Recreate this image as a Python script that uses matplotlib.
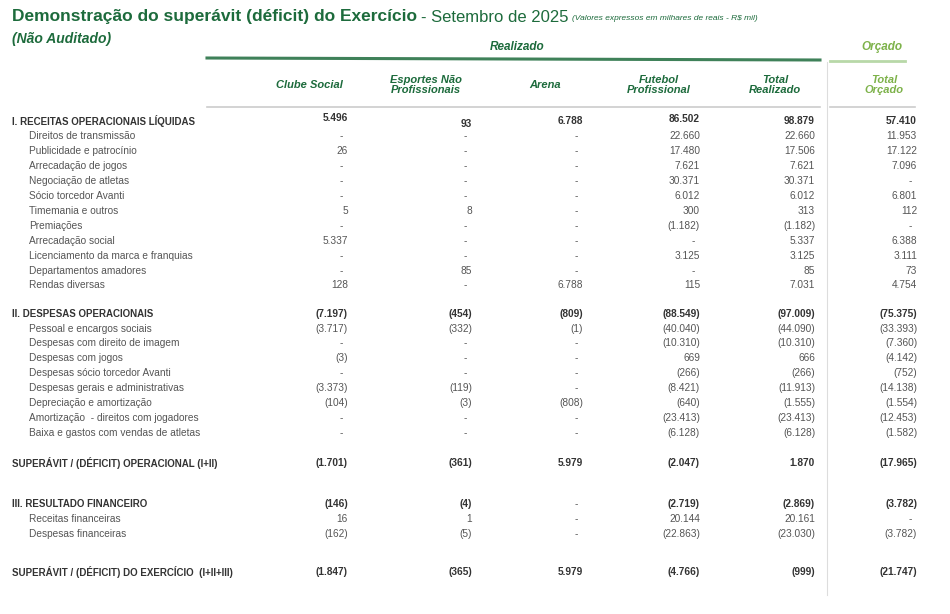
import matplotlib
matplotlib.use("Agg")
import matplotlib.pyplot as plt

labels = ["I. RECEITAS OPERACIONAIS LÍQUIDAS", "Direitos de transmissão", "Publicidade e patrocínio",
          "Arrecadação de jogos", "Negociação de atletas", "Sócio torcedor Avanti", "Timemania e outros",
          "Premiações", "Arrecadação social", "Licenciamento da marca e franquias", "Departamentos amadores",
          "Rendas diversas",
          "II. DESPESAS OPERACIONAIS", "Pessoal e encargos sociais", "Despesas com direito de imagem",
          "Despesas com jogos", "Despesas sócio torcedor Avanti", "Despesas gerais e administrativas",
          "Depreciação e amortização", "Amortização  - direitos com jogadores", "Baixa e gastos com vendas de atletas",
          "SUPERÁVIT / (DÉFICIT) OPERACIONAL (I+II)",
          "III. RESULTADO FINANCEIRO", "Receitas financeiras", "Despesas financeiras",
          "SUPERÁVIT / (DÉFICIT) DO EXERCÍCIO  (I+II+III)"]
bold_rows = {0, 12, 21, 22, 25}
row_y = [121, 136, 151, 166, 181, 196, 211, 226, 241, 256, 271, 285,
         314, 329, 343, 358, 373, 388, 403, 418, 433, 463, 504, 519, 534, 572]

N = None
clube_social = [5496, N, 26, N, N, N, 5, N, 5337, N, N, 128,
                -7197, -3717, N, -3, N, -3373, -104, N, N, -1701, -146, 16, -162, -1847]
esportes = [93, N, N, N, N, N, 8, N, N, N, 85, N,
            -454, -332, N, N, N, -119, -3, N, N, -361, -4, 1, -5, -365]
arena = [6788, N, N, N, N, N, N, N, N, N, N, 6788,
         -809, -1, N, N, N, N, -808, N, N, 5979, N, N, N, 5979]
futebol = [86502, 22660, 17480, 7621, 30371, 6012, 300, -1182, N, 3125, N, 115,
           -88549, -40040, -10310, 669, -266, -8421, -640, -23413, -6128, -2047, -2719, 20144, -22863, -4766]
total_realizado = [98879, 22660, 17506, 7621, 30371, 6012, 313, -1182, 5337, 3125, 85, 7031,
                   -97009, -44090, -10310, 666, -266, -11913, -1555, -23413, -6128, 1870, -2869, 20161, -23030, -999]
total_orcado = [57410, 11953, 17122, 7096, N, 6801, 112, N, 6388, 3111, 73, 4754,
                -75375, -33393, -7360, -4142, -752, -14138, -1554, -12453, -1582, -17965, -3782, N, -3782, -21747]

columns = [clube_social, esportes, arena, futebol, total_realizado, total_orcado]
col_headers = ["Clube Social", "Esportes Não\nProfissionais", "Arena", "Futebol\nProfissional",
               "Total\nRealizado", "Total\nOrçado"]
col_right = [348, 472, 583, 700, 815, 917]
col_center = [309, 426, 545, 659, 775, 884]
col_dy = [-3, 3, 0, -2, 0, 0]

DG = "#1d6b3c"
LG = "#7db24a"
TXT = "#555555"
font = "Liberation Sans"

def fmt(v):
    if v is None:
        return "-"
    s = f"{abs(v):,}".replace(",", ".")
    return f"({s})" if v < 0 else s

fig = plt.figure(figsize=(9.5, 6.14), dpi=100)
ax = fig.add_axes([0, 0, 1, 1])
ax.set_xlim(0, 950)
ax.set_ylim(614, 0)
ax.axis("off")
fig.canvas.draw()
renderer = fig.canvas.get_renderer()

def right_edge(t):
    bb = t.get_window_extent(renderer)
    return ax.transData.inverted().transform((bb.x1, bb.y0))[0]

t1 = ax.text(12, 17, "Demonstração do superávit (déficit) do Exercício", fontsize=12.5, fontweight="bold",
             color=DG, family=font, va="center")
x = right_edge(t1) + 4
t2 = ax.text(x, 17, "- Setembro de 2025", fontsize=12, color=DG, family=font, va="center")
x = right_edge(t2) + 4
ax.text(x, 18, "(Valores expressos em milhares de reais - R$ mil)", fontsize=6, color=DG,
        family=font, va="center", style="italic")
ax.text(12, 39, "(Não Auditado)", fontsize=10, fontweight="bold", color=DG, family=font,
        va="center", style="italic")
ax.text(517, 47, "Realizado", fontsize=8.5, fontweight="bold", color=DG, family=font,
        ha="center", va="center", style="italic")
ax.text(882, 47, "Orçado", fontsize=8.5, fontweight="bold", color=LG, family=font,
        ha="center", va="center", style="italic")
ax.plot([207, 820], [58, 60], color=DG, lw=2.2, alpha=0.85)
ax.plot([830, 905], [61, 61], color="#b8d8a8", lw=2)
ax.plot([827, 827], [62, 595], color="#dddddd", lw=0.8)
ax.plot([207, 820], [107, 107], color="#cccccc", lw=1.2)
ax.plot([830, 915], [107, 107], color="#cccccc", lw=1.2)

for i, h in enumerate(col_headers):
    ax.text(col_center[i], 85, h, fontsize=8, fontweight="bold", style="italic",
            color=LG if i == 5 else DG, family=font, ha="center", va="center", linespacing=1.0)

for r, (lab, y) in enumerate(zip(labels, row_y)):
    bold = r in bold_rows
    x = 12 if bold else 29
    ax.text(x, y, lab, fontsize=7 if bold else 7.3, fontweight="bold" if bold else "normal",
            color="#333333" if bold else TXT, family=font, va="center")
    for c, col in enumerate(columns):
        v = col[r]
        xr = col_right[c] if v is not None else col_right[c] - 5
        dy = col_dy[c] if (r == 0) else 0
        ax.text(xr, y + dy, fmt(v), fontsize=7.3, fontweight="bold" if (bold and v is not None) else "normal",
                color="#333333" if (bold and v is not None) else TXT, family=font, ha="right", va="center")

fig.savefig("out.png", dpi=100)
